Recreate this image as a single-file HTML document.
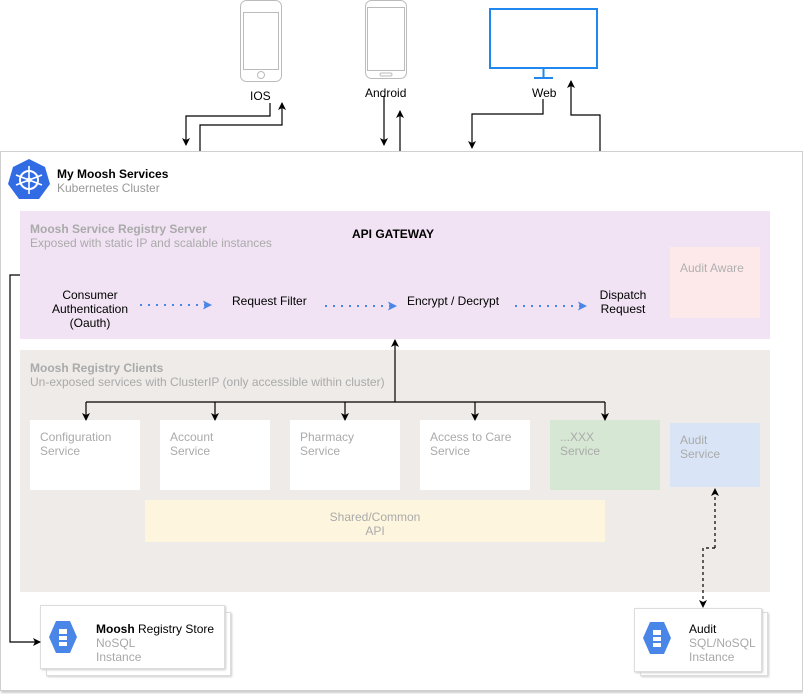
<!DOCTYPE html>
<html><head><meta charset="utf-8"><style>
body{margin:0;width:803px;height:694px;background:#fff;position:relative;overflow:hidden;font-family:"Liberation Sans",sans-serif;}
.a{position:absolute;box-sizing:border-box;}
.t{position:absolute;font-size:12px;line-height:14px;}
.g{color:#a8a8a8;}
.svc{position:absolute;background:#fff;color:#aaa;font-size:12px;line-height:14px;padding:10px;box-sizing:border-box;}
</style></head><body>
<div class="a" style="left:0;top:151px;width:803px;height:540px;border:1px solid #d0d0d0;box-shadow:1px 2px 2px #ccc;"></div>
<div class="a" style="left:20px;top:211px;width:750px;height:128px;background:#f1e3f4;"></div>
<div class="a" style="left:20px;top:350px;width:750px;height:242px;background:#eeebe8;"></div>
<div class="a" style="left:670px;top:247px;width:90px;height:71px;background:#fde9ea;"></div>
<div class="t" style="left:680px;top:261px;color:#b0b0b0;">Audit Aware</div>

<div class="t" style="left:57px;top:167px;font-weight:bold;">My Moosh Services</div>
<div class="t" style="left:57px;top:181px;color:#999;">Kubernetes Cluster</div>
<div class="t" style="left:30px;top:222px;font-weight:bold;color:#aaa;">Moosh Service Registry Server</div>
<div class="t" style="left:30px;top:236px;color:#aaa;">Exposed with static IP and scalable instances</div>
<div class="t" style="left:352px;top:227px;font-weight:bold;">API GATEWAY</div>
<div class="t" style="left:40px;top:288px;width:100px;text-align:center;">Consumer Authentication (Oauth)</div>
<div class="t" style="left:232px;top:294px;">Request Filter</div>
<div class="t" style="left:407px;top:294px;">Encrypt / Decrypt</div>
<div class="t" style="left:598px;top:288px;width:50px;text-align:center;">Dispatch Request</div>

<div class="t" style="left:30px;top:361px;font-weight:bold;color:#aaa;">Moosh Registry Clients</div>
<div class="t" style="left:30px;top:375px;color:#aaa;">Un-exposed services with ClusterIP (only accessible within cluster)</div>
<div class="svc" style="left:30px;top:420px;width:110px;height:70px;padding:10px;">Configuration<br>Service</div>
<div class="svc" style="left:160px;top:420px;width:110px;height:70px;">Account<br>Service</div>
<div class="svc" style="left:290px;top:420px;width:110px;height:70px;">Pharmacy<br>Service</div>
<div class="svc" style="left:420px;top:420px;width:110px;height:70px;">Access to Care<br>Service</div>
<div class="svc" style="left:550px;top:420px;width:110px;height:70px;background:#d6e8d4;">...XXX<br>Service</div>
<div class="svc" style="left:670px;top:423px;width:90px;height:64px;background:#d9e5f6;">Audit<br>Service</div>
<div class="a" style="left:145px;top:500px;width:460px;height:42px;background:#fdf5dd;"></div>
<div class="t" style="left:145px;top:510px;width:460px;text-align:center;color:#aaa;">Shared/Common<br>API</div>

<div class="a" style="left:46px;top:612px;width:185px;height:64px;background:#fff;border:1px solid #ddd;box-shadow:1px 1px 2px #ccc;"></div>
<div class="a" style="left:40px;top:605px;width:185px;height:64px;background:#fff;border:1px solid #ddd;box-shadow:1px 1px 2px #ccc;"></div>
<div class="t" style="left:96px;top:622px;"><b>Moosh</b> Registry Store</div>
<div class="t g" style="left:96px;top:636px;">NoSQL<br>Instance</div>
<div class="a" style="left:640px;top:612px;width:128px;height:64px;background:#fff;border:1px solid #ddd;box-shadow:1px 1px 2px #ccc;"></div>
<div class="a" style="left:634px;top:608px;width:128px;height:64px;background:#fff;border:1px solid #ddd;box-shadow:1px 1px 2px #ccc;"></div>
<div class="t" style="left:689px;top:622px;">Audit</div>
<div class="t g" style="left:689px;top:636px;">SQL/NoSQL<br>Instance</div>

<div class="t" style="left:250px;top:89px;">IOS</div>
<div class="t" style="left:365px;top:86px;">Android</div>
<div class="t" style="left:532px;top:86px;">Web</div>

<svg class="a" style="left:0;top:0" width="803" height="694">
<defs>
<marker id="ar" markerWidth="8" markerHeight="8" refX="7" refY="4" orient="auto" markerUnits="userSpaceOnUse"><path d="M0,0L8,4L0,8L2,4z" fill="#000"/></marker>
<marker id="ab" markerWidth="9" markerHeight="9" refX="8" refY="4.5" orient="auto" markerUnits="userSpaceOnUse"><path d="M0,0L9,4.5L0,9L2,4.5z" fill="#4a86e8"/></marker>
</defs>
<rect x="240.5" y="0.5" width="41" height="81" rx="6" fill="#fff" stroke="#bbb"/>
<rect x="243.5" y="12.5" width="35" height="57" fill="#fff" stroke="#bbb"/>
<circle cx="261" cy="75" r="3.5" fill="none" stroke="#bbb"/>
<rect x="365.5" y="0.5" width="41" height="78" rx="6" fill="#fff" stroke="#bbb"/>
<rect x="367.5" y="7.5" width="37" height="63" fill="#fff" stroke="#bbb"/>
<rect x="380" y="73" width="12" height="3" rx="1.5" fill="none" stroke="#bbb"/>
<rect x="490" y="9" width="107" height="59" fill="#fff" stroke="#1e88f0" stroke-width="2"/>
<line x1="543.5" y1="68" x2="543.5" y2="78" stroke="#1e88f0" stroke-width="2"/>
<line x1="534" y1="78" x2="553" y2="78" stroke="#1e88f0" stroke-width="2"/>
<polygon points="29,157 45,165 50,182 39,197 19,197 8,182 13,165" fill="#326ce5" transform="translate(0,2)"/>
<circle cx="29" cy="180" r="9" fill="none" stroke="#fff" stroke-width="2"/>
<g stroke="#fff" stroke-width="1.6"><line x1="29" y1="166" x2="29" y2="194"/><line x1="16" y1="175" x2="42" y2="185"/><line x1="42" y1="175" x2="16" y2="185"/></g>
<circle cx="29" cy="180" r="2.5" fill="#fff"/>
<g fill="#4a86e8"><polygon points="56,621 70,621 77,637 70,653 56,653 49,637"/><polygon points="650,622 664,622 671,638 664,654 650,654 643,638"/></g>
<g fill="#fff"><rect x="59" y="629" width="8" height="5"/><rect x="59" y="636" width="8" height="4"/><rect x="59" y="642" width="8" height="4"/>
<rect x="653" y="630" width="8" height="5"/><rect x="653" y="637" width="8" height="4"/><rect x="653" y="643" width="8" height="4"/></g>
<g fill="none" stroke="#000" stroke-width="1.2">
<polyline points="270,103 270,116 186,116 186,145" marker-end="url(#ar)"/>
<polyline points="200,151 200,125 282,125 282,103" marker-end="url(#ar)"/>
<polyline points="384,96 384,145" marker-end="url(#ar)"/>
<polyline points="400,151 400,111" marker-end="url(#ar)"/>
<polyline points="543,99 543,114 472,114 472,148" marker-end="url(#ar)"/>
<polyline points="600,151 600,115 571,115 571,81" marker-end="url(#ar)"/>
<polyline points="395,402 395,340" marker-end="url(#ar)"/>
<polyline points="86,402 605,402"/>
<polyline points="86,402 86,420" marker-end="url(#ar)"/>
<polyline points="215,402 215,420" marker-end="url(#ar)"/>
<polyline points="345,402 345,420" marker-end="url(#ar)"/>
<polyline points="475,402 475,420" marker-end="url(#ar)"/>
<polyline points="605,402 605,420" marker-end="url(#ar)"/>
<polyline points="20,275 10,275 10,642 40,642" marker-end="url(#ar)"/>
<polyline points="715,548 715,489" stroke-dasharray="3,3" marker-end="url(#ar)"/>
<polyline points="715,548 703,548 703,607" stroke-dasharray="3,3" marker-end="url(#ar)"/>
</g>
<g fill="none" stroke="#4a86e8" stroke-width="2" stroke-dasharray="2,6">
<line x1="140" y1="305" x2="211" y2="305" marker-end="url(#ab)"/>
<line x1="325" y1="306" x2="396" y2="306" marker-end="url(#ab)"/>
<line x1="515" y1="306" x2="586" y2="306" marker-end="url(#ab)"/>
</g>
</svg>
</body></html>
